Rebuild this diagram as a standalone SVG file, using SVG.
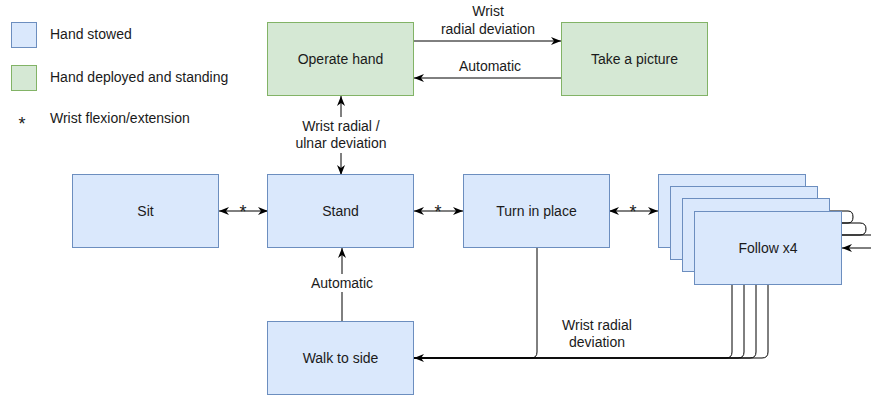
<svg xmlns="http://www.w3.org/2000/svg" width="871" height="396" viewBox="0 0 871 396">
<defs>
<marker id="arr" viewBox="0 0 10 8" refX="10" refY="4" markerWidth="10" markerHeight="8" markerUnits="userSpaceOnUse" orient="auto-start-reverse">
<path d="M0,0 L10,4 L0,8 L3,4 Z" fill="#000"/>
</marker>
<style>
.blue{fill:#dae8fc;stroke:#6c8ebf;stroke-width:1}
.green{fill:#d5e8d4;stroke:#82b366;stroke-width:1}
text{font-family:"Liberation Sans",Arial,sans-serif;font-size:14px;fill:#1a1a1a}
.c{text-anchor:middle}
.e{font-size:14px}
.st{font-size:18px}
.ln{fill:none;stroke:#000;stroke-width:1}
</style>
</defs>
<rect width="871" height="396" fill="#fff"/>

<g id="legend">
<rect class="blue" x="11.5" y="22.5" width="25" height="25"/>
<text x="50" y="39">Hand stowed</text>
<rect class="green" x="11.5" y="65.5" width="25" height="25"/>
<text x="50" y="82">Hand deployed and standing</text>
<text class="c st" x="22" y="130">*</text>
<text x="50" y="123">Wrist flexion/extension</text>
</g>

<g id="connectors">
<line class="ln" x1="414" y1="41" x2="561" y2="41" marker-end="url(#arr)"/>
<text class="c e" x="488" y="16">Wrist</text>
<text class="c e" x="488" y="34">radial deviation</text>
<line class="ln" x1="561" y1="78" x2="414" y2="78" marker-end="url(#arr)"/>
<text class="c e" x="490" y="71">Automatic</text>

<line class="ln" x1="341" y1="96" x2="341" y2="175" marker-start="url(#arr)" marker-end="url(#arr)"/>
<rect x="294" y="117" width="94" height="36" fill="#fff"/>
<text class="c e" x="341" y="131">Wrist radial /</text>
<text class="c e" x="341" y="148">ulnar deviation</text>

<line class="ln" x1="219" y1="211" x2="268" y2="211" marker-start="url(#arr)" marker-end="url(#arr)"/>
<text class="c st" x="243" y="218">*</text>
<line class="ln" x1="414" y1="211" x2="463" y2="211" marker-start="url(#arr)" marker-end="url(#arr)"/>
<text class="c st" x="438" y="218">*</text>
<line class="ln" x1="609" y1="211" x2="658" y2="211" marker-start="url(#arr)" marker-end="url(#arr)"/>
<text class="c st" x="633" y="218">*</text>

<line class="ln" x1="342" y1="322" x2="342" y2="248" marker-end="url(#arr)"/>
<rect x="304" y="274" width="76" height="18" fill="#fff"/>
<text class="c e" x="342" y="288">Automatic</text>

<path class="ln" d="M537,248 V352 Q537,358 531,358 H414" marker-end="url(#arr)"/>
<path class="ln" d="M732,248 V352 Q732,358 726,358 H414"/>
<path class="ln" d="M744,260 V352 Q744,358 738,358 H414"/>
<path class="ln" d="M756,272 V352 Q756,358 750,358 H414"/>
<path class="ln" d="M768,285 V352 Q768,358 762,358 H414"/>
<text class="c e" x="597" y="330">Wrist radial</text>
<text class="c e" x="597" y="347">deviation</text>

<path class="ln" d="M806,211 H848 Q853,211 853,217 Q853,223 848,223 H818"/>
<path class="ln" d="M818,223 H860 Q866,223 866,229 Q866,235 860,235 H830"/>
<path class="ln" d="M830,235 H871"/>
<line class="ln" x1="871" y1="248" x2="842" y2="248" marker-end="url(#arr)"/>
</g>

<g id="operate-hand">
<rect class="green" x="267.5" y="22.5" width="146" height="73"/>
<text class="c" x="340.5" y="64">Operate hand</text>
</g>
<g id="take-a-picture">
<rect class="green" x="561.5" y="22.5" width="146" height="73"/>
<text class="c" x="634.5" y="64">Take a picture</text>
</g>
<g id="sit">
<rect class="blue" x="72.5" y="174.5" width="146" height="73"/>
<text class="c" x="145.5" y="216">Sit</text>
</g>
<g id="stand">
<rect class="blue" x="267.5" y="174.5" width="146" height="73"/>
<text class="c" x="340.5" y="216">Stand</text>
</g>
<g id="turn-in-place">
<rect class="blue" x="463.5" y="174.5" width="146" height="73"/>
<text class="c" x="536.5" y="216">Turn in place</text>
</g>
<g id="follow">
<rect class="blue" x="658.5" y="174.5" width="147" height="73"/>
<rect class="blue" x="670.5" y="186.5" width="147" height="73"/>
<rect class="blue" x="682.5" y="198.5" width="147" height="73"/>
<rect class="blue" x="694.5" y="211.5" width="147" height="73"/>
<text class="c" x="768" y="253">Follow x4</text>
</g>
<g id="walk-to-side">
<rect class="blue" x="267.5" y="321.5" width="146" height="73"/>
<text class="c" x="340.5" y="363">Walk to side</text>
</g>
</svg>
